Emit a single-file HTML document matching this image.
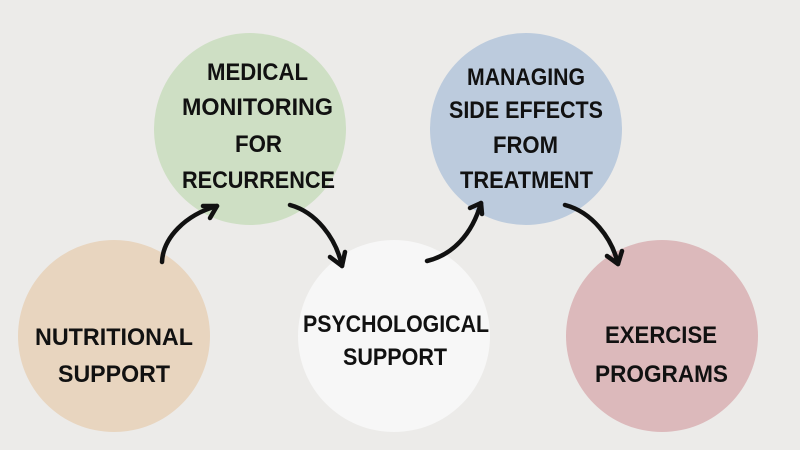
<!DOCTYPE html>
<html>
<head>
<meta charset="utf-8">
<style>
html,body{margin:0;padding:0;background:#ecebe9;}
svg{display:block;}
text{font-family:"Liberation Sans",sans-serif;font-weight:bold;font-size:24px;fill:#111;}
</style>
</head>
<body>
<svg width="800" height="450" viewBox="0 0 800 450" xmlns="http://www.w3.org/2000/svg">
<rect width="800" height="450" fill="#ecebe9"/>
<circle cx="250" cy="129" r="96" fill="#cedfc4"/>
<circle cx="526" cy="129" r="96" fill="#bccbdd"/>
<circle cx="114" cy="336" r="96" fill="#e8d5bf"/>
<circle cx="394" cy="336" r="96" fill="#f7f7f7"/>
<circle cx="662" cy="336" r="96" fill="#dcb9bb"/>

<text x="207" y="80" textLength="101" lengthAdjust="spacingAndGlyphs">MEDICAL</text>
<text x="182" y="115" textLength="151" lengthAdjust="spacingAndGlyphs">MONITORING</text>
<text x="235" y="152" textLength="47" lengthAdjust="spacingAndGlyphs">FOR</text>
<text x="182" y="188" textLength="153" lengthAdjust="spacingAndGlyphs">RECURRENCE</text>

<text x="467" y="85" textLength="118" lengthAdjust="spacingAndGlyphs">MANAGING</text>
<text x="449" y="118" textLength="154" lengthAdjust="spacingAndGlyphs">SIDE EFFECTS</text>
<text x="493" y="153" textLength="65" lengthAdjust="spacingAndGlyphs">FROM</text>
<text x="460" y="188" textLength="133" lengthAdjust="spacingAndGlyphs">TREATMENT</text>

<text x="35" y="345" textLength="158" lengthAdjust="spacingAndGlyphs">NUTRITIONAL</text>
<text x="58" y="382" textLength="112" lengthAdjust="spacingAndGlyphs">SUPPORT</text>

<text x="303" y="332" textLength="186" lengthAdjust="spacingAndGlyphs">PSYCHOLOGICAL</text>
<text x="343" y="365" textLength="104" lengthAdjust="spacingAndGlyphs">SUPPORT</text>

<text x="605" y="343" textLength="112" lengthAdjust="spacingAndGlyphs">EXERCISE</text>
<text x="595" y="382" textLength="133" lengthAdjust="spacingAndGlyphs">PROGRAMS</text>

<g fill="none" stroke="#111" stroke-width="4.5" stroke-linecap="round" stroke-linejoin="round">
  <path d="M162 262 C163 238 185 215 217 206"/>
  <path d="M203 206 L217 206 L210 218"/>
  <path d="M290 205 C316 212 336 238 342 266"/>
  <path d="M330 257 L342 266 L345 252"/>
  <path d="M427 261 C452 255 472 235 481 203"/>
  <path d="M470 208 L481 203 L482 214"/>
  <path d="M565 205 C592 212 612 238 618 264"/>
  <path d="M607 256 L618 264 L622 251"/>
</g>
</svg>
</body>
</html>
